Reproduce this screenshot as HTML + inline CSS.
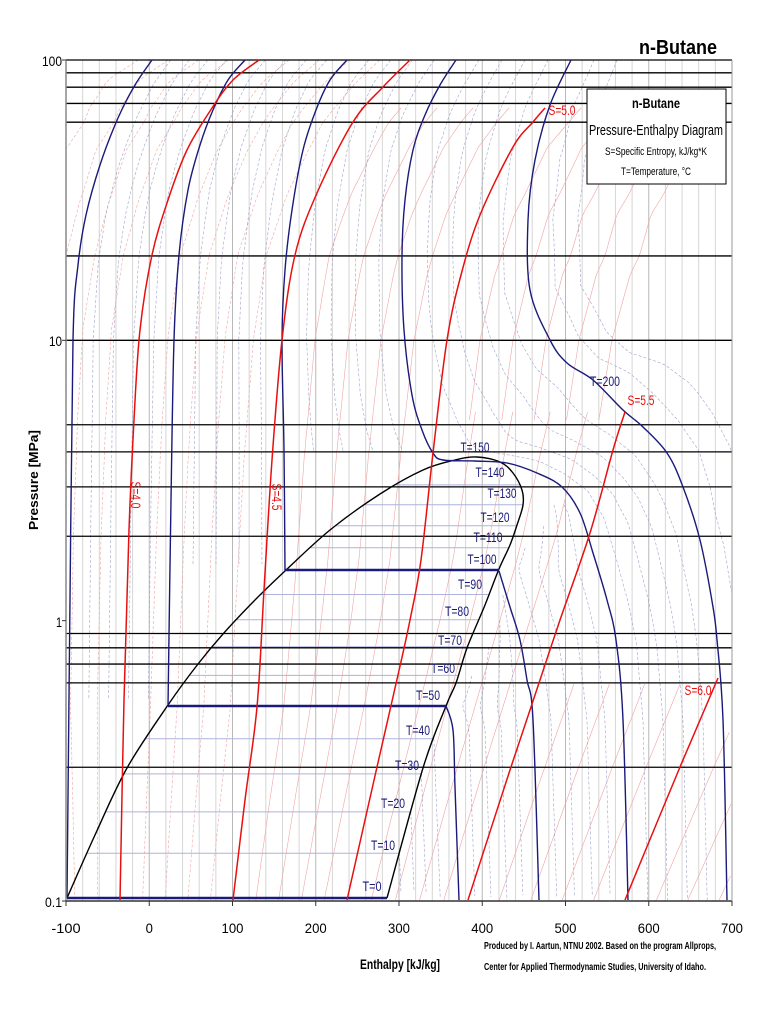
<!DOCTYPE html>
<html><head><meta charset="utf-8"><style>
html,body{margin:0;padding:0;background:#fff;}
svg{display:block;font-family:"Liberation Sans",sans-serif;}
</style></head><body>
<svg id="c" width="768" height="1024" viewBox="0 0 768 1024" xmlns="http://www.w3.org/2000/svg">
<rect width="768" height="1024" fill="#fff"/>
<g id="grid"></g><g id="faint"></g><g id="main"></g><g id="lab"></g>
</svg>
<script>
const NS="http://www.w3.org/2000/svg";
function add(g,tag,a,t){const e=document.createElementNS(NS,tag);for(const k in a)e.setAttribute(k,a[k]);if(t!==undefined)e.textContent=t;document.getElementById(g).appendChild(e);return e;}
const X=h=>66+(h+100)*0.8325;
const Y=p=>60+(2-Math.log10(p))*280.33;
function smooth(P){if(P.length<3)return "M"+P.map(p=>p.join(",")).join("L");let d="M"+P[0][0]+","+P[0][1];for(let i=0;i<P.length-1;i++){const p0=P[Math.max(0,i-1)],p1=P[i],p2=P[i+1],p3=P[Math.min(P.length-1,i+2)];const c1=[p1[0]+(p2[0]-p0[0])/6,p1[1]+(p2[1]-p0[1])/6],c2=[p2[0]-(p3[0]-p1[0])/6,p2[1]-(p3[1]-p1[1])/6];d+="C"+c1[0].toFixed(1)+","+c1[1].toFixed(1)+" "+c2[0].toFixed(1)+","+c2[1].toFixed(1)+" "+p2[0]+","+p2[1];}return d;}
function line(g,P,st,w,da){const a={d:smooth(P),fill:"none",stroke:st,"stroke-width":w};if(da)a["stroke-dasharray"]=da;add(g,"path",a);}
function xAt(P,y){const Q=P.slice().sort((a,b)=>a[1]-b[1]);if(y<Q[0][1]||y>Q[Q.length-1][1])return null;for(let i=0;i<Q.length-1;i++){if(y>=Q[i][1]&&y<=Q[i+1][1]){const t=(Q[i+1][1]==Q[i][1])?0:(y-Q[i][1])/(Q[i+1][1]-Q[i][1]);return Q[i][0]+t*(Q[i+1][0]-Q[i][0]);}}return null;}
function interp(A,B,f,y0,y1){const out=[];for(let y=y0;y<=y1+0.01;y+=8){const a=xAt(A,y),b=xAt(B,y);if(a==null||b==null)continue;const x=a+f*(b-a);if(x<66||x>732)continue;out.push([+x.toFixed(1),+y.toFixed(1)]);}return out;}
function resample(P,n){let L=[0];for(let i=1;i<P.length;i++)L.push(L[i-1]+Math.hypot(P[i][0]-P[i-1][0],P[i][1]-P[i-1][1]));const T=L[L.length-1],o=[];for(let k=0;k<n;k++){const s=T*k/(n-1);let i=1;while(i<L.length-1&&L[i]<s)i++;const t=(s-L[i-1])/(L[i]-L[i-1]||1);o.push([P[i-1][0]+t*(P[i][0]-P[i-1][0]),P[i-1][1]+t*(P[i][1]-P[i-1][1])]);}return o;}

for(let h=-100;h<=700;h+=20){const x=X(h);add("grid","line",{x1:x,y1:60,x2:x,y2:901,stroke:h%100==0?"#b8b8b8":"#d6d6d6","stroke-width":1});}
[100,90,80,70,60,20,10,5,4,3,2,0.9,0.8,0.7,0.6,0.3].forEach(p=>{const y=Y(p);add("main","line",{x1:66,y1:y,x2:732,y2:y,stroke:"#000","stroke-width":1.3});});

const S40=[[259,60],[233,80],[212,108],[187,150],[168,200],[152,255],[140,330],[134,420],[129,530],[124,700],[120,900]];
const S45=[[410,60],[383,87],[353,122],[317,193],[295,255],[282,340],[272,460],[264,590],[257,707],[245,800],[233,900]];
const S50=[[545,108],[533,122],[513,147],[480,215],[461,275],[447,340],[433,453],[421,560],[410,620],[398,675],[377,767],[347,900]];
const S55=[[625,412],[613,450],[590,533],[560,620],[540,680],[510,770],[468,900]];
const S60=[[718,678],[680,767],[625,900]];
const FR="#f3a3a3";
for(let k=-4;k<0;k++){line("faint",interp(S40,S45,k/5,60,900),FR,0.6,"3,2");}
for(let k=1;k<5;k++){line("faint",interp(S40,S45,k/5,60,900),FR,0.6,"3,2");line("faint",interp(S45,S50,k/5,60,900),FR,0.6);line("faint",interp(S50,S55,k/5,60,900),FR,0.6);line("faint",interp(S55,S60,k/5,60,900),FR,0.6);}
for(let k=6;k<=10;k++){line("faint",interp(S45,S50,k/5,60,420),FR,0.6);}
for(let k=6;k<=9;k++){line("faint",interp(S55,S60,k/5,60,900),FR,0.6);}

const T0u=[[152,60],[135,85],[118,118],[100,165],[86,215],[78,265],[73,340],[70,600],[67,898]];
const T50u=[[245,60],[228,80],[213,110],[200,145],[188,190],[179,255],[174,340],[171,500],[168,706]];
const T100u=[[347,60],[330,80],[316,110],[303,150],[292,210],[285,270],[282,340],[284,450],[285,571]];
const T150=[[456,60],[440,85],[425,115],[413,150],[405,200],[402,255],[404,330],[412,395],[422,430],[433,453],[443,460],[475,461],[507,463],[537,473],[562,487],[580,513],[593,553],[607,600],[616,640],[623,720],[628,900]];
const T200=[[571,60],[550,105],[535,160],[528,220],[530,290],[550,340],[567,363],[593,380],[623,410],[643,427],[667,453],[683,487],[700,540],[713,607],[717,640],[723,720],[727,900]];
const T150u=T150.slice(0,10);
const T50v=[[446,706],[453,730],[455,787],[459,900]];
const T100v=[[499,571],[510,607],[520,640],[527,680],[533,720],[539,900]];
const T150l=T150.slice(12);
const liq=[[67,898],[95,835],[127,768],[168,705],[198,664],[223,634],[255,600],[285,571],[330,530],[380,494],[423,470],[455,460],[477,457]];
const vap=[[477,457],[500,462],[513,473],[522,490],[523,505],[517,525],[510,545],[499,569],[485,605],[467,648],[456,683],[446,706],[423,768],[387,898]];
const vapLow=vap.slice(4);
const satP={0:0.103,10:0.148,20:0.208,30:0.284,40:0.379,50:0.496,60:0.638,70:0.807,80:1.007,90:1.24,100:1.51,110:1.82,120:2.18,130:2.59,140:3.05,150:3.57};
const FB="#9ea3cc";
for(let T=10;T<=140;T+=10){if(T==50||T==100)continue;const y=Y(satP[T]);const a=xAt(liq,y);let b=xAt(vapLow,y);if(b==null)b=xAt(vap.slice(0,5),y);if(a!=null&&b!=null)add("faint","line",{x1:a,y1:y,x2:b,y2:y,stroke:"#aeb2dc","stroke-width":1});}
const pairs=[[T0u,T50u,0],[T50u,T100u,50],[T100u,T150u,100]];
pairs.forEach(([A,B,T0])=>{for(let k=1;k<5;k++){const T=T0+10*k;const ys=Y(satP[T]);line("faint",interp(A,B,k/5,60,ys),FB,0.6,"3,2");}});
for(let k=1;k<5;k++){const T=10*k;const ys=Y(satP[T]);const x0=xAt(vapLow,ys);const P=[];for(let y=ys;y<=900;y+=10){P.push([x0+(y-ys)*0.04,y]);}line("faint",P,FB,0.6,"3,2");}
for(let k=1;k<5;k++){const ys=Y(satP[50+10*k]);const P2=[];for(let y=Math.ceil(ys);y<=900;y+=10){const a=xAt(T50v,Math.max(y,706))+(y<706?(xAt(vapLow,y)-446):0),b=xAt(T100v,y);if(b==null)continue;P2.push([a+k/5*(b-a),y]);}if(P2.length>1)line("faint",P2,FB,0.6,"3,2");}
for(let k=1;k<5;k++){const ys=Y(satP[100+10*k]);const P2=[];for(let y=Math.ceil(ys);y<=900;y+=10){const b=xAt(T150l,y);let a=xAt(T100v,y);if(a==null)a=xAt(vapLow,y);if(a==null||b==null)continue;P2.push([a+k/5*(b-a),y]);}if(P2.length>1)line("faint",P2,FB,0.6,"3,2");}
{const A=resample(T150,120),B=resample(T200,120);for(let k=1;k<=7;k++){if(k==5)continue;const P=A.map((a,i)=>[+(a[0]+k/5*(B[i][0]-a[0])).toFixed(1),+(a[1]+k/5*(B[i][1]-a[1])).toFixed(1)]).filter(p=>p[0]<732);line("faint",P,FB,0.6,"3,2");}}

const DB="#1a1a7a";
line("main",liq.concat(vap.slice(1)),"#000",1.4);
line("main",T0u,DB,1.4);add("main","line",{x1:67,y1:898,x2:387,y2:898,stroke:DB,"stroke-width":2.5});
line("main",T50u,DB,1.4);add("main","line",{x1:168,y1:706,x2:446,y2:706,stroke:DB,"stroke-width":2.5});line("main",T50v,DB,1.4);
line("main",T100u,DB,1.4);add("main","line",{x1:285,y1:570,x2:499,y2:570,stroke:DB,"stroke-width":2.5});line("main",T100v,DB,1.4);
line("main",T150,DB,1.4);line("main",T200,DB,1.4);
const RD="#e8100f";
[S40,S45,S50,S55,S60].forEach(s=>line("main",s,RD,1.5));

add("main","line",{x1:66,y1:60,x2:66,y2:901,stroke:"#888","stroke-width":1.5});
add("main","line",{x1:66,y1:901,x2:732,y2:901,stroke:"#333","stroke-width":1.5});
add("main","line",{x1:732,y1:60,x2:732,y2:901,stroke:"#999","stroke-width":1});
for(let h=-100;h<=700;h+=100){add("main","line",{x1:X(h),y1:901,x2:X(h),y2:906,stroke:"#333","stroke-width":1});}
[100,10,1,0.1].forEach(p=>add("main","line",{x1:62,y1:Y(p),x2:66,y2:Y(p),stroke:"#333","stroke-width":1}));

function T(x,y,s,o){o=o||{};const a={x:x,y:y,"font-size":o.fs||12,fill:o.c||"#000"};if(o.a)a["text-anchor"]=o.a;if(o.w){a.textLength=o.w;a.lengthAdjust="spacingAndGlyphs";}if(o.b)a["font-weight"]="bold";if(o.tr)a.transform=o.tr;return add("lab","text",a,s);}
T(62,66,"100",{a:"end",fs:14,w:20});T(62,346,"10",{a:"end",fs:14,w:13});T(62,627,"1",{a:"end",fs:14,w:6});T(62,907,"0.1",{a:"end",fs:14,w:17});
[-100,0,100,200,300,400,500,600,700].forEach(h=>T(X(h),933,String(h),{a:"middle",fs:14,w:String(h).length*7.3}));
T(400,969,"Enthalpy [kJ/kg]",{a:"middle",b:1,fs:14,w:80});
T(38,480,"Pressure [MPa]",{a:"middle",b:1,fs:13,w:100,tr:"rotate(-90 38 480)"});
T(678,54,"n-Butane",{a:"middle",b:1,fs:20,w:78});
T(484,949,"Produced by I. Aartun, NTNU 2002. Based on the program Allprops,",{fs:10,b:1,w:232});
T(484,970,"Center for Applied Thermodynamic Studies, University of Idaho.",{fs:10,b:1,w:222});
add("lab","rect",{x:587,y:89,width:139,height:95,fill:"#fff",stroke:"#000","stroke-width":1});
T(656,108,"n-Butane",{a:"middle",b:1,fs:14,w:48});
T(656,135,"Pressure-Enthalpy Diagram",{a:"middle",fs:15,w:134});
T(656,155,"S=Specific Entropy, kJ/kg*K",{a:"middle",fs:11,w:102});
T(656,175,"T=Temperature, °C",{a:"middle",fs:11,w:70});
const tl=[[0,372,891],[10,383,850],[20,393,808],[30,407,770],[40,418,735],[50,428,700],[60,443,673],[70,450,645],[80,457,616],[90,470,589],[100,482,564],[110,488,542],[120,495,522],[130,502,498],[140,490,477],[150,475,452]];
tl.forEach(([t,x,y])=>T(x,y,"T="+t,{a:"middle",fs:14,c:DB,w:t>=100?29:(t==0?19:24)}));
T(605,386,"T=200",{a:"middle",fs:14,c:DB,w:30});
T(641,405,"S=5.5",{a:"middle",fs:14,c:RD,w:27});
T(562,115,"S=5.0",{a:"middle",fs:14,c:RD,w:27});
T(698,695,"S=6.0",{a:"middle",fs:14,c:RD,w:27});
T(0,0,"S=4.0",{a:"middle",fs:14,c:RD,w:27,tr:"translate(131,495) rotate(90)"});
T(0,0,"S=4.5",{a:"middle",fs:14,c:RD,w:27,tr:"translate(272,497) rotate(90)"});
</script>
</body></html>
